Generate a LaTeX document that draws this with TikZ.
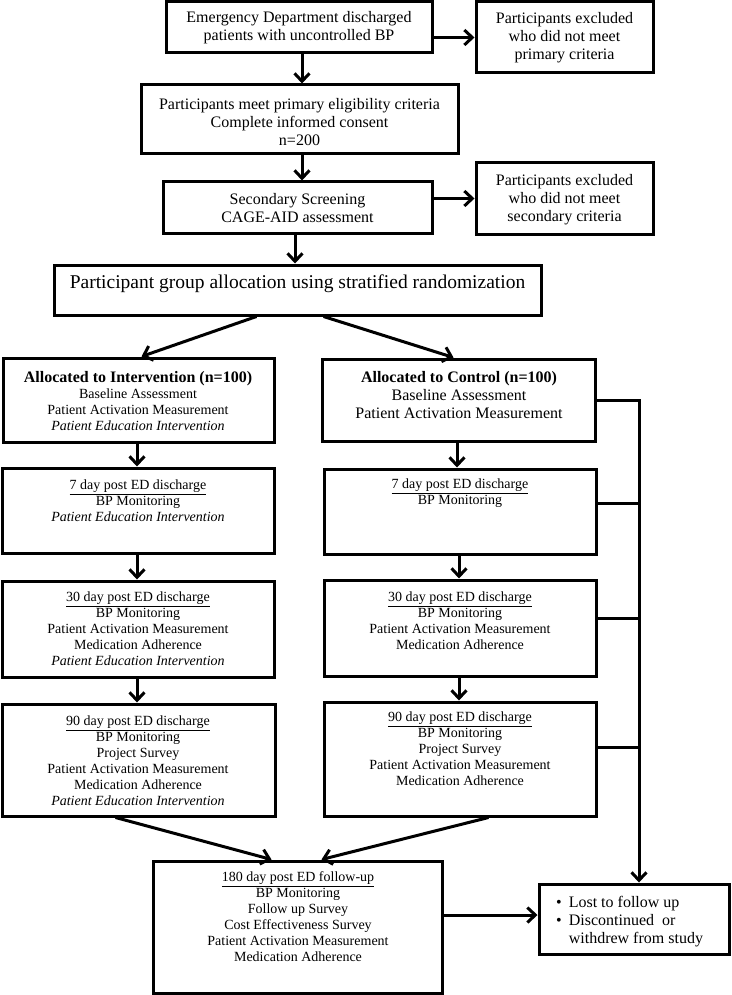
\documentclass[tikz,border=0pt]{standalone}
\usepackage{fontspec}
\setmainfont{Liberation Serif}
\usetikzlibrary{arrows.meta,calc}
\newcommand\bx[5]{\node[box,minimum width=#4pt,minimum height=#5pt] (#1) at (#2,#3) {};}
\begin{document}
\begin{tikzpicture}[x=1pt,y=-1pt,
  box/.style={draw, line width=3pt, inner sep=0pt},
  txt/.style={align=center, inner sep=0pt, font=\fontsize{14}{16}\selectfont},
  big/.style={font=\fontsize{16}{18}\selectfont},
  arr/.style={line width=3pt, line join=miter, -{Straight Barb[length=8pt,width=15pt]}},
  ln/.style={line width=3pt}
]
\useasboundingbox (0,0) rectangle (731,995);
% boxes
\bx{B1}{299}{27.5}{266}{51}
\bx{E1}{564.5}{37.5}{177}{71}
\bx{B2}{299.5}{119.5}{317}{69}
\bx{B3}{297.5}{207.5}{269}{51}
\bx{E2}{564.5}{198.5}{177}{71}
\bx{AL}{297.5}{290}{487}{50}
\bx{I0}{138.5}{400}{271}{84}
\bx{C0}{458.5}{400}{273}{82}
\bx{I7}{138}{510.5}{272}{85}
\bx{C7}{460}{511.5}{272}{85}
\bx{I30}{138}{629}{272}{96}
\bx{C30}{460}{628}{272}{96}
\bx{I90}{138.5}{760}{273}{112}
\bx{C90}{460}{759}{272}{114}
\bx{F}{297.5}{927}{289}{132}
\bx{L}{634}{919}{190}{70}
% texts
\node[txt,big] (tB1) at (299,28) {Emergency Department discharged\\patients with uncontrolled BP};
\node[txt,big] (tE1) at (564.5,38) {Participants excluded\\who did not meet\\primary criteria};
\node[txt,big] (tB2) at (299.5,122) {Participants meet primary eligibility criteria\\Complete informed consent\\n=200};
\node[txt,big] (tB3) at (297.5,208) {Secondary Screening\\CAGE-AID assessment};
\node[txt,big] (tE2) at (564.5,199.5) {Participants excluded\\who did not meet\\secondary criteria};
\node[txt,font=\fontsize{19.5}{22}\selectfont] (tAL) at (297.5,284) {Participant group allocation using stratified randomization};
\node[txt] (tI0) at (138,401.5) {{\fontsize{16}{18}\selectfont\bfseries Allocated to Intervention (n=100)}\\Baseline Assessment\\Patient Activation Measurement\\\textit{Patient Education Intervention}};
\node[txt,big] (tC0) at (459,395) {\textbf{Allocated to Control (n=100)}\\Baseline Assessment\\Patient Activation Measurement};
\node[txt] (tI7) at (138,501) {\underline{7 day post ED discharge}\\BP Monitoring\\\textit{Patient Education Intervention}};
\node[txt] (tC7) at (460,493) {\underline{7 day post ED discharge}\\BP Monitoring};
\node[txt] (tI30) at (138,629) {\underline{30 day post ED discharge}\\BP Monitoring\\Patient Activation Measurement\\Medication Adherence\\\textit{Patient Education Intervention}};
\node[txt] (tC30) at (460,621) {\underline{30 day post ED discharge}\\BP Monitoring\\Patient Activation Measurement\\Medication Adherence};
\node[txt] (tI90) at (138,761) {\underline{90 day post ED discharge}\\BP Monitoring\\Project Survey\\Patient Activation Measurement\\Medication Adherence\\\textit{Patient Education Intervention}};
\node[txt] (tC90) at (460,749) {\underline{90 day post ED discharge}\\BP Monitoring\\Project Survey\\Patient Activation Measurement\\Medication Adherence};
\node[txt] (tF) at (298,917) {\underline{180 day post ED follow-up}\\BP Monitoring\\Follow up Survey\\Cost Effectiveness Survey\\Patient Activation Measurement\\Medication Adherence};
\node[txt,big,anchor=west,align=left] (tL) at (556,921.5) {\begin{tabular}{@{}l@{\hspace{7pt}}l@{}}\textbullet & Lost to follow up\\ \textbullet & Discontinued\ \ or\\ & withdrew from study\end{tabular}};
% connectors
\draw[arr] ($(B1.south)+(3,0)$) -- ($(B2.north)+(2.5,0)$);
\draw[arr] ($(B2.south)+(2.5,0)$) -- ($(B3.north)+(4.5,0)$);
\draw[arr] ($(B3.south)+(-2.5,0)$) -- ($(AL.north)+(-2.5,0)$);
\draw[arr] (E1.west -| B1.east) -- (E1.west);
\draw[arr] (E2.west -| B3.east) -- (E2.west);
\draw[arr] ($(AL.south west)+(204,0)$) -- ($(I0.north west)+(140,0)$);
\draw[arr] ($(AL.south west)+(271,0)$) -- ($(C0.north west)+(133,0)$);
\draw[arr] ($(I0.south)+(-1.5,0)$) -- ($(I7.north)+(-1,0)$);
\draw[arr] ($(I7.south)+(-1,0)$) -- ($(I30.north)+(-1,0)$);
\draw[arr] ($(I30.south)+(-1,0)$) -- ($(I90.north)+(-1.5,0)$);
\draw[arr] ($(C0.south)+(-1.5,0)$) -- ($(C7.north)+(-3,0)$);
\draw[arr] ($(C7.south)+(-1,0)$) -- ($(C30.north)+(-1,0)$);
\draw[arr] ($(C30.south)+(-1,0)$) -- ($(C90.north)+(-1,0)$);
\draw[arr] ($(I90.south west)+(115,0)$) -- ($(F.north west)+(120,0)$);
\draw[arr] ($(C90.south west)+(166,0)$) -- ($(F.north west)+(170,0)$);
\coordinate (fx) at ($(F.east)+(0,-12)$);
\draw[arr] (fx) -- (fx -| L.west);
\coordinate (T0) at (639,400);
\coordinate (T7) at (639,503);
\coordinate (T30) at (639,618);
\coordinate (T90) at (639,747);
\draw[arr] (C0.east) -- (T0) -- (T0 |- L.north);
\draw[ln] (C7.east |- T7) -- (T7);
\draw[ln] (C30.east |- T30) -- (T30);
\draw[ln] (C90.east |- T90) -- (T90);
\end{tikzpicture}
\end{document}
